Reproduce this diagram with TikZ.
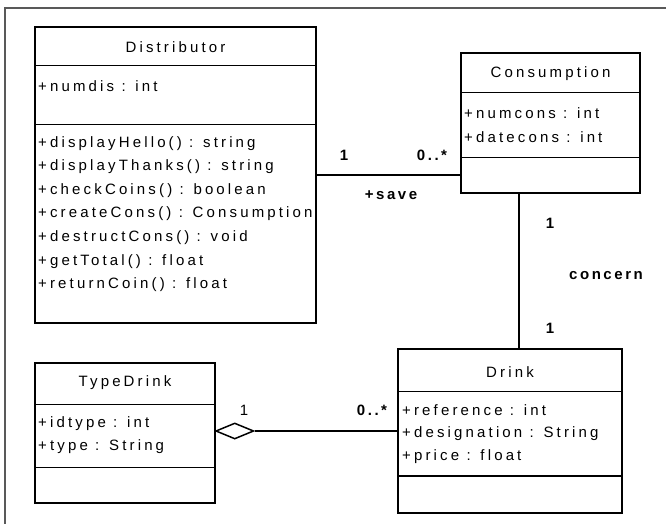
\documentclass[tikz,border=0pt]{standalone}
\usepackage{fontspec}
\setmainfont[LetterSpace=21]{Liberation Sans}
\usetikzlibrary{shapes.geometric}
\tikzset{
  cls/.style={draw, line width=2.5pt, anchor=north west, inner sep=0pt, outer sep=0pt},
  sepline/.style={line width=1pt},
  septhick/.style={line width=2.5pt},
  txt/.style={anchor=west, inner sep=0pt, font=\fontsize{15}{17}\selectfont},
  ttl/.style={inner sep=0pt, font=\fontsize{15}{17}\selectfont},
  lbl/.style={inner sep=0pt, font=\fontsize{15}{17}\selectfont\bfseries\addfontfeatures{LetterSpace=17}},
  lblthin/.style={inner sep=0pt, font=\fontsize{15}{17}\selectfont},
  conn/.style={line width=2.5pt},
  frame/.style={draw=black!65, line width=2pt},
}
\begin{document}
\begin{tikzpicture}[x=1pt,y=-1pt]
\useasboundingbox (0,0) rectangle (666,524);
% outer frame
\draw[frame] (5,524) -- (5,8) -- (666,8);

% Distributor
\node[cls, minimum width=281pt, minimum height=296pt] (dist) at (35,27) {};
\draw[sepline] (35,66) -- (316,66);
\draw[sepline] (35,125) -- (316,125);
\node[ttl] (distT) at (175.5,47) {Distributor};
\node[txt] (da1) at (38,86) {+numdis : int};
\node[txt] (do1) at (38,144) {+displayHello() : string};
\node[txt] (do2) at (38,167) {+displayThanks() : string};
\node[txt] (do3) at (38,191) {+checkCoins() : boolean};
\node[txt] (do4) at (38,214) {+createCons() : Consumption};
\node[txt] (do5) at (38,238) {+destructCons() : void};
\node[txt] (do6) at (38,262) {+getTotal() : float};
\node[txt] (do7) at (38,285) {+returnCoin() : float};

% Consumption
\node[cls, minimum width=179pt, minimum height=140pt] (cons) at (461,53) {};
\draw[sepline] (461,93) -- (640,93);
\draw[sepline] (461,157) -- (640,157);
\node[ttl] (consT) at (550.5,74) {Consumption};
\node[txt] (ca1) at (464,113) {+numcons : int};
\node[txt] (ca2) at (464,137) {+datecons : int};

% Drink
\node[cls, minimum width=224pt, minimum height=164pt] (drink) at (398,349) {};
\draw[sepline] (398,391) -- (622,391);
\draw[septhick] (398,476) -- (622,476);
\node[ttl] (drinkT) at (510,372) {Drink};
\node[txt] (ka1) at (402,410) {+reference : int};
\node[txt] (ka2) at (402,434) {+designation : String};
\node[txt] (ka3) at (402,457) {+price : float};

% TypeDrink
\node[cls, minimum width=180pt, minimum height=140pt] (tdrink) at (35,363) {};
\draw[sepline] (35,404) -- (215,404);
\draw[sepline] (35,467) -- (215,467);
\node[ttl] (tdrinkT) at (125,383) {TypeDrink};
\node[txt] (ta1) at (38,424) {+idtype : int};
\node[txt] (ta2) at (38,447) {+type : String};

% connectors
\coordinate (saveY) at (0,175);
\draw[conn] (dist.east |- saveY) -- (cons.west |- saveY);
\node[lbl] (s1) at (344,155) {1};
\node[lbl] (s2) at (432,155) {0..*};
\node[lbl] (s3) at (391,195) {+save};

\coordinate (vX) at (519,0);
\draw[conn] (cons.south -| vX) -- (drink.north -| vX);
\node[lbl] (c1) at (550,223) {1};
\node[lbl] (c2) at (606,276) {concern};
\node[lbl] (c3) at (550,328) {1};

\node[draw, shape=diamond, line width=1.5pt, fill=white, minimum width=38pt, minimum height=16pt, inner sep=0pt, anchor=west] (agg) at (215,431) {};
\draw[conn] (agg.east) -- (drink.west |- agg.east);
\node[lblthin] (g1) at (244,410) {1};
\node[lbl] (g2) at (372,410) {0..*};
\end{tikzpicture}
\end{document}
